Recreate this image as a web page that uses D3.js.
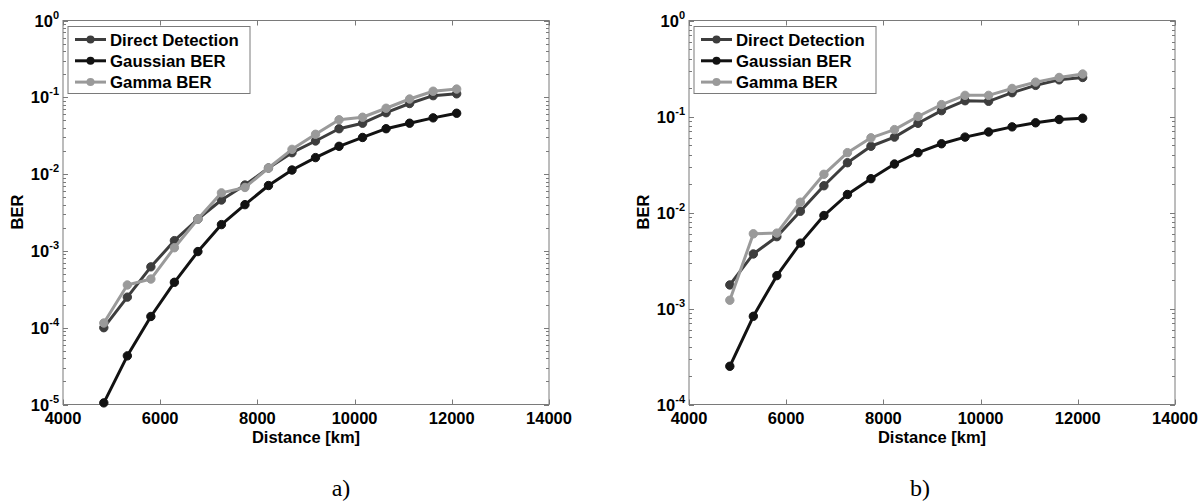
<!DOCTYPE html>
<html>
<head>
<meta charset="utf-8">
<script src="https://cdn.jsdelivr.net/npm/d3@7"></script>
<style>
  body { margin: 0; background: #fff; }
  svg { display: block; }
  text { font-family: "Liberation Sans", Arial, sans-serif; font-weight: bold; fill: #000; }
</style>
</head>
<body>
<svg id="chart" width="1200" height="504"></svg>
<script>
  // distances (km), same for both panels
  var distances = [4840, 5324, 5808, 6292, 6776, 7260, 7744, 8228, 8712, 9196, 9680, 10164, 10648, 11132, 11616, 12100]
  var xTicks = [4000, 6000, 8000, 10000, 12000, 14000]
  var seriesNames = ["Direct Detection", "Gaussian BER", "Gamma BER"]
  var seriesColors = ["#3d3d3d", "#121212", "#9a9a9a"]

  // panel a)
  var directA = [1.0e-4, 2.5e-4, 6.2e-4, 1.36e-3, 2.6e-3, 4.6e-3, 7.2e-3, 1.2e-2, 1.9e-2, 2.7e-2, 3.9e-2, 4.6e-2, 6.3e-2, 8.3e-2, 0.105, 0.111]
  var gaussA = [1.05e-5, 4.3e-5, 1.4e-4, 3.9e-4, 9.8e-4, 2.2e-3, 4.0e-3, 7.1e-3, 1.13e-2, 1.64e-2, 2.3e-2, 3.0e-2, 3.9e-2, 4.6e-2, 5.4e-2, 6.2e-2]
  var gammaA = [1.15e-4, 3.6e-4, 4.3e-4, 1.1e-3, 2.6e-3, 5.7e-3, 6.7e-3, 1.2e-2, 2.1e-2, 3.3e-2, 5.1e-2, 5.5e-2, 7.2e-2, 9.5e-2, 0.12, 0.128]

  // panel b)
  var directB = [1.76e-3, 3.7e-3, 5.6e-3, 1.03e-2, 1.9e-2, 3.3e-2, 4.9e-2, 6.1e-2, 8.5e-2, 0.115, 0.146, 0.144, 0.177, 0.211, 0.241, 0.255]
  var gaussB = [2.5e-4, 8.3e-4, 2.2e-3, 4.8e-3, 9.3e-3, 1.54e-2, 2.25e-2, 3.2e-2, 4.2e-2, 5.2e-2, 6.1e-2, 6.9e-2, 7.8e-2, 8.6e-2, 9.3e-2, 9.6e-2]
  var gammaB = [1.22e-3, 6.0e-3, 6.1e-3, 1.28e-2, 2.5e-2, 4.2e-2, 6.0e-2, 7.3e-2, 0.1, 0.133, 0.166, 0.166, 0.196, 0.228, 0.255, 0.277]

  var svg = d3.select("#chart")
  var axisColor = "#7a7a7a"

  function drawPanel(left, right, yMinExp, series, caption){
    var top = 20.5, bottom = 404.5
    var x = d3.scaleLinear().domain([4000, 14000]).range([left, right])
    var y = d3.scaleLog().domain([Math.pow(10, yMinExp), 1]).range([bottom, top])
    var g = svg.append("g")

    // box
    g.append("rect")
      .attr("x", left).attr("y", top)
      .attr("width", right - left).attr("height", bottom - top)
      .attr("fill", "none").attr("stroke", axisColor).attr("stroke-width", 1)

    // x ticks, inward on bottom and top
    xTicks.forEach(function(t){
      var px = Math.round(x(t)) + 0.5
      g.append("line").attr("x1", px).attr("x2", px).attr("y1", bottom).attr("y2", bottom - 5)
        .attr("stroke", axisColor)
      g.append("line").attr("x1", px).attr("x2", px).attr("y1", top).attr("y2", top + 5)
        .attr("stroke", axisColor)
      g.append("text").attr("x", x(t)).attr("y", 424)
        .attr("text-anchor", "middle").style("font-size", "16.5px")
        .text(t)
    })

    // y ticks, majors and minors, inward on left and right
    for (var e = yMinExp; e <= 0; e++){
      for (var m = 1; m <= 9; m++){
        if (e == 0 && m > 1) break
        var v = m * Math.pow(10, e)
        var py = Math.round(y(v)) + 0.5
        var len = m == 1 ? 5 : 3
        g.append("line").attr("x1", left).attr("x2", left + len).attr("y1", py).attr("y2", py)
          .attr("stroke", axisColor)
        g.append("line").attr("x1", right).attr("x2", right - len).attr("y1", py).attr("y2", py)
          .attr("stroke", axisColor)
      }
      var lab = g.append("text").attr("x", left - 4).attr("y", y(Math.pow(10, e)) + 6)
        .attr("text-anchor", "end").style("font-size", "16.5px")
      lab.append("tspan").text("10")
      lab.append("tspan").attr("dy", -8).style("font-size", "11px").text(e == 0 ? "0" : "-" + (-e))
    }

    // axis labels
    g.append("text").attr("x", (left + right) / 2).attr("y", 443)
      .attr("text-anchor", "middle").style("font-size", "16.5px")
      .text("Distance [km]")
    g.append("text")
      .attr("transform", "translate(" + (left - 40) + "," + 212 + ") rotate(-90)")
      .attr("text-anchor", "middle").style("font-size", "16.5px")
      .text("BER")

    // series
    var line = d3.line()
      .x(function(d){ return x(d[0]) })
      .y(function(d){ return y(d[1]) })
    series.forEach(function(s, i){
      var pts = distances.map(function(dv, j){ return [dv, s[j]] })
      g.append("path").datum(pts)
        .attr("d", line).attr("fill", "none")
        .attr("stroke", seriesColors[i]).attr("stroke-width", 3)
        .attr("stroke-linejoin", "round")
      g.selectAll(null).data(pts).enter().append("circle")
        .attr("cx", function(d){ return x(d[0]) })
        .attr("cy", function(d){ return y(d[1]) })
        .attr("r", 4.2)
        .attr("fill", seriesColors[i])
        .attr("stroke", seriesColors[i]).attr("stroke-width", 1)
    })

    // legend
    var lx = left + 5, ly = 26.5
    g.append("rect").attr("x", lx).attr("y", ly).attr("width", 182).attr("height", 67)
      .attr("fill", "#fff").attr("stroke", axisColor).attr("stroke-width", 1)
    seriesNames.forEach(function(name, i){
      var ry = 39.5 + i * 21.3
      g.append("line").attr("x1", lx + 7).attr("x2", lx + 38).attr("y1", ry).attr("y2", ry)
        .attr("stroke", seriesColors[i]).attr("stroke-width", 3)
      g.append("circle").attr("cx", lx + 22.5).attr("cy", ry).attr("r", 4)
        .attr("fill", seriesColors[i])
      g.append("text").attr("x", lx + 42).attr("y", ry + 6)
        .style("font-size", "16.8px").text(name)
    })

    // caption
    svg.append("text").attr("x", caption.x).attr("y", 496)
      .attr("text-anchor", "middle")
      .style("font-family", "'Liberation Serif', 'Times New Roman', serif")
      .style("font-weight", "normal").style("font-size", "24px")
      .text(caption.text)
  }

  drawPanel(63, 549, -5, [directA, gaussA, gammaA], {x: 341, text: "a)"})
  drawPanel(689, 1175, -4, [directB, gaussB, gammaB], {x: 920, text: "b)"})
</script>
</body>
</html>
